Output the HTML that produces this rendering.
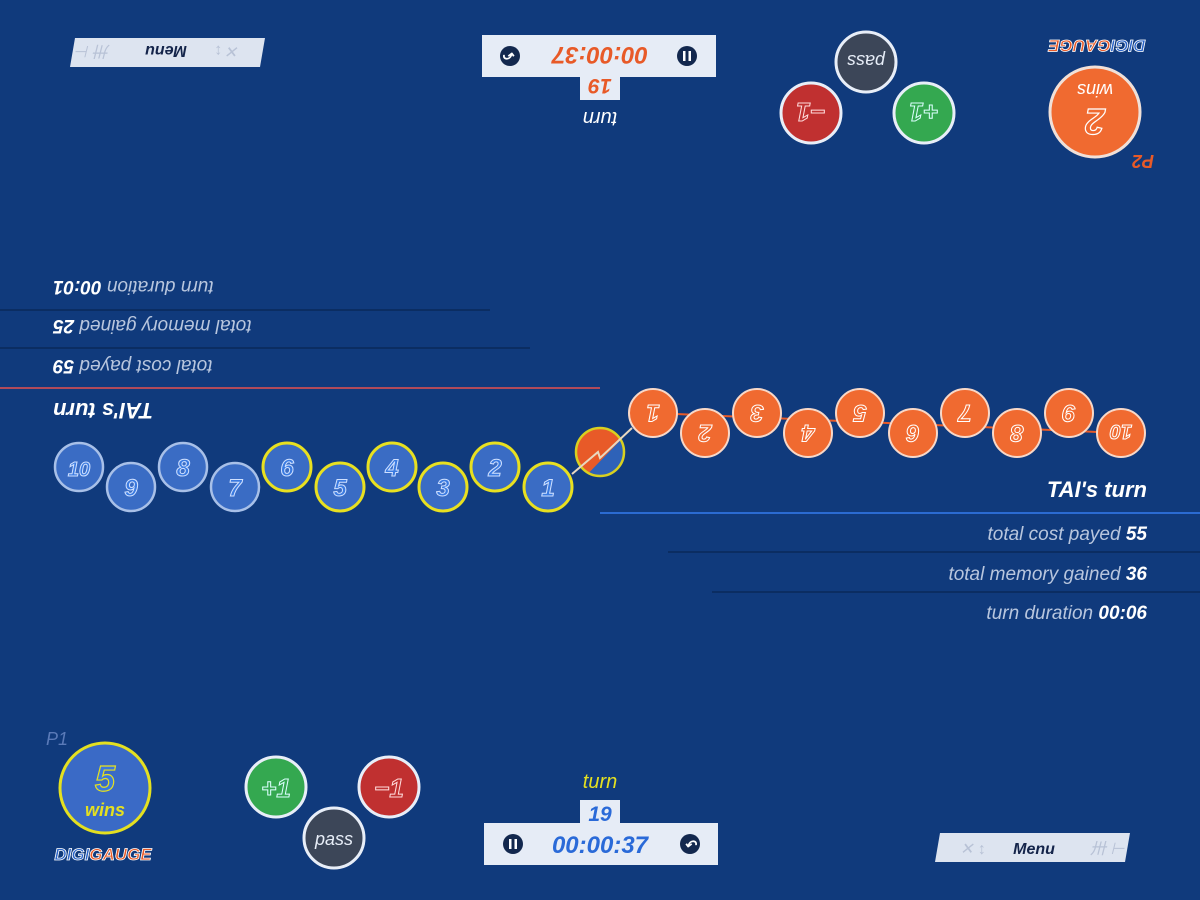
<!DOCTYPE html>
<html><head><meta charset="utf-8"><style>
html,body{margin:0;padding:0;background:#103a7c;width:1200px;height:900px;overflow:hidden}
svg{display:block}
text{font-family:"Liberation Sans",sans-serif;font-style:italic}
</style></head><body>
<svg width="1200" height="900" viewBox="0 0 1200 900" xmlns="http://www.w3.org/2000/svg">
<rect width="1200" height="900" fill="#103a7c"/>

<!-- ===== bottom half (P1 view) ===== -->
<g id="half">
  <!-- stats lines -->
  <line x1="600" y1="513" x2="1200" y2="513" stroke="#2b6bd2" stroke-width="2"/>
  <line x1="668" y1="552" x2="1200" y2="552" stroke="#0b2d62" stroke-width="2"/>
  <line x1="712" y1="592" x2="1200" y2="592" stroke="#0b2d62" stroke-width="2"/>
  <text x="1147" y="497" text-anchor="end" font-size="22" font-weight="bold" fill="#fff">TAI's turn</text>
  <text x="1147" y="540" text-anchor="end" font-size="19" fill="#b8c6de">total cost payed <tspan font-weight="bold" fill="#fff">55</tspan></text>
  <text x="1147" y="580" text-anchor="end" font-size="19" fill="#b8c6de">total memory gained <tspan font-weight="bold" fill="#fff">36</tspan></text>
  <text x="1147" y="619" text-anchor="end" font-size="19" fill="#b8c6de">turn duration <tspan font-weight="bold" fill="#fff">00:06</tspan></text>

  <!-- wins -->
  <text x="46" y="745" font-size="18" fill="#5a7ab8">P1</text>
  <circle cx="105" cy="788" r="45" fill="#3a6ac6" stroke="#e4e020" stroke-width="3"/>
  <text x="105" y="791" text-anchor="middle" font-size="36" font-weight="bold" fill="#3a78e0" stroke="#e4e020" stroke-width="1.2">5</text>
  <text x="105" y="816" text-anchor="middle" font-size="18" font-weight="bold" fill="#e4e020">wins</text>
  <text x="103" y="860" text-anchor="middle" font-size="17" font-weight="bold" fill="#2a64c8" stroke="#fff" stroke-width="0.8">DIGI<tspan fill="#e85a28">GAUGE</tspan></text>

  <!-- controls -->
  <circle cx="276" cy="787" r="30" fill="#34a850" stroke="#e8eef8" stroke-width="3"/>
  <text x="276" y="797" text-anchor="middle" font-size="26" font-weight="bold" fill="#34a850" stroke="#dff" stroke-width="1">+1</text>
  <circle cx="389" cy="787" r="30" fill="#c03030" stroke="#e8eef8" stroke-width="3"/>
  <text x="389" y="797" text-anchor="middle" font-size="26" font-weight="bold" fill="#c03030" stroke="#fdd" stroke-width="1">−1</text>
  <circle cx="334" cy="838" r="30" fill="#3c4658" stroke="#e8eef8" stroke-width="3"/>
  <text x="334" y="845" text-anchor="middle" font-size="18" fill="#e8eef8" font-style="normal">pass</text>

  <!-- timer -->
  <rect x="580" y="800" width="40" height="25" fill="#e6ecf6"/>
  <text x="600" y="821" text-anchor="middle" font-size="21" font-weight="bold" fill="#2a6ad8">19</text>
  <rect x="484" y="823" width="234" height="42" fill="#e6ecf6"/>
  <circle cx="513" cy="844" r="10" fill="#13284e"/>
  <rect x="509" y="839" width="2.5" height="10" fill="#fff"/><rect x="514.5" y="839" width="2.5" height="10" fill="#fff"/>
  <circle cx="690" cy="844" r="10" fill="#13284e"/>
  <text x="690" y="850" text-anchor="middle" font-size="14" font-weight="bold" fill="#fff" font-style="normal">↶</text>
  <text x="600" y="853" text-anchor="middle" font-size="24" font-weight="bold" fill="#2a6ad8">00:00:37</text>

  <!-- menu -->
  <polygon points="940,833 1130,833 1125,862 935,862" fill="#dde4f0"/>
  <text x="960" y="854" font-size="16" fill="#b8c2d6" font-style="normal">✕ ↕</text>
  <text x="1090" y="854" font-size="16" fill="#b8c2d6" font-style="normal">卅 ⊢</text>
  <text x="1034" y="854" text-anchor="middle" font-size="16" font-weight="bold" fill="#14244a">Menu</text>
</g>

<!-- ===== top half (P2 view, rotated) ===== -->
<g transform="rotate(180 600 450)">
  <line x1="600" y1="512" x2="1200" y2="512" stroke="#b04a5a" stroke-width="2"/>
  <line x1="670" y1="552" x2="1200" y2="552" stroke="#0b2d62" stroke-width="2"/>
  <line x1="710" y1="590" x2="1200" y2="590" stroke="#0b2d62" stroke-width="2"/>
  <text x="1147" y="497" text-anchor="end" font-size="22" font-weight="bold" fill="#fff">TAI's turn</text>
  <text x="1147" y="540" text-anchor="end" font-size="19" fill="#b8c6de">total cost payed <tspan font-weight="bold" fill="#fff">59</tspan></text>
  <text x="1147" y="580" text-anchor="end" font-size="19" fill="#b8c6de">total memory gained <tspan font-weight="bold" fill="#fff">25</tspan></text>
  <text x="1147" y="619" text-anchor="end" font-size="19" fill="#b8c6de">turn duration <tspan font-weight="bold" fill="#fff">00:01</tspan></text>

  <text x="46" y="745" font-size="18" font-weight="bold" fill="#e85a28">P2</text>
  <circle cx="105" cy="788" r="45" fill="#f06a30" stroke="#f0e0d8" stroke-width="3"/>
  <text x="105" y="791" text-anchor="middle" font-size="36" font-weight="bold" fill="#f06a30" stroke="#fff" stroke-width="1.2">2</text>
  <text x="105" y="816" text-anchor="middle" font-size="18" fill="#fff">wins</text>
  <text x="103" y="860" text-anchor="middle" font-size="17" font-weight="bold" fill="#2a64c8" stroke="#fff" stroke-width="0.8">DIGI<tspan fill="#e85a28">GAUGE</tspan></text>

  <circle cx="276" cy="787" r="30" fill="#34a850" stroke="#e8eef8" stroke-width="3"/>
  <text x="276" y="797" text-anchor="middle" font-size="26" font-weight="bold" fill="#34a850" stroke="#dff" stroke-width="1">+1</text>
  <circle cx="389" cy="787" r="30" fill="#c03030" stroke="#e8eef8" stroke-width="3"/>
  <text x="389" y="797" text-anchor="middle" font-size="26" font-weight="bold" fill="#c03030" stroke="#fdd" stroke-width="1">−1</text>
  <circle cx="334" cy="838" r="30" fill="#3c4658" stroke="#e8eef8" stroke-width="3"/>
  <text x="334" y="845" text-anchor="middle" font-size="18" fill="#e8eef8" font-style="normal">pass</text>

  <text x="600" y="788" text-anchor="middle" font-size="20" fill="#fff">turn</text>
  <rect x="580" y="800" width="40" height="25" fill="#e6ecf6"/>
  <text x="600" y="821" text-anchor="middle" font-size="21" font-weight="bold" fill="#e85a28">19</text>
  <rect x="484" y="823" width="234" height="42" fill="#e6ecf6"/>
  <circle cx="513" cy="844" r="10" fill="#13284e"/>
  <rect x="509" y="839" width="2.5" height="10" fill="#fff"/><rect x="514.5" y="839" width="2.5" height="10" fill="#fff"/>
  <circle cx="690" cy="844" r="10" fill="#13284e"/>
  <text x="690" y="850" text-anchor="middle" font-size="14" font-weight="bold" fill="#fff" font-style="normal">↶</text>
  <text x="600" y="853" text-anchor="middle" font-size="24" font-weight="bold" fill="#e85a28">00:00:37</text>

  <polygon points="940,833 1130,833 1125,862 935,862" fill="#dde4f0"/>
  <text x="960" y="854" font-size="16" fill="#b8c2d6" font-style="normal">✕ ↕</text>
  <text x="1090" y="854" font-size="16" fill="#b8c2d6" font-style="normal">卅 ⊢</text>
  <text x="1034" y="854" text-anchor="middle" font-size="16" font-weight="bold" fill="#14244a">Menu</text>
</g>

<!-- bottom turn label (yellow) -->
<text x="600" y="788" text-anchor="middle" font-size="20" fill="#e4e020">turn</text>

<!-- center half ball + connector -->
<defs><clipPath id="hc"><circle cx="600" cy="452" r="24"/></clipPath></defs>
<circle cx="600" cy="452" r="24" fill="#2e62b8"/>
<polygon points="570,420 640,420 578,484" fill="#e85a28" clip-path="url(#hc)"/>
<circle cx="600" cy="452" r="24" fill="none" stroke="#d8d020" stroke-width="2.5"/>
<polyline points="572,474 598,452 600,458 632,428" fill="none" stroke="#e8d8c0" stroke-width="2"/>

<!-- orange balls (upside-down numbers) -->
<g font-size="24" font-weight="bold" text-anchor="middle">
  <line x1="653" y1="413" x2="1121" y2="433" stroke="#e85a28" stroke-width="2"/>
  <g fill="#f06a30" stroke="#f8d8c8" stroke-width="2">
    <circle cx="653" cy="413" r="24"/><circle cx="705" cy="433" r="24"/><circle cx="757" cy="413" r="24"/>
    <circle cx="808" cy="433" r="24"/><circle cx="860" cy="413" r="24"/><circle cx="913" cy="433" r="24"/>
    <circle cx="965" cy="413" r="24"/><circle cx="1017" cy="433" r="24"/><circle cx="1069" cy="413" r="24"/>
    <circle cx="1121" cy="433" r="24"/>
  </g>
  <g fill="#f06a30" stroke="#fff" stroke-width="1">
    <text transform="rotate(180 653 413)" x="653" y="421">1</text>
    <text transform="rotate(180 705 433)" x="705" y="441">2</text>
    <text transform="rotate(180 757 413)" x="757" y="421">3</text>
    <text transform="rotate(180 808 433)" x="808" y="441">4</text>
    <text transform="rotate(180 860 413)" x="860" y="421">5</text>
    <text transform="rotate(180 913 433)" x="913" y="441">6</text>
    <text transform="rotate(180 965 413)" x="965" y="421">7</text>
    <text transform="rotate(180 1017 433)" x="1017" y="441">8</text>
    <text transform="rotate(180 1069 413)" x="1069" y="421">9</text>
    <text transform="rotate(180 1121 433)" x="1121" y="441" font-size="20">10</text>
  </g>
</g>

<!-- blue balls -->
<g font-size="24" font-weight="bold" text-anchor="middle">
  <g fill="#3a6cc4" stroke-width="2.5">
    <circle cx="79" cy="467" r="24" stroke="#a8c0e8"/>
    <circle cx="131" cy="487" r="24" stroke="#a8c0e8"/>
    <circle cx="183" cy="467" r="24" stroke="#a8c0e8"/>
    <circle cx="235" cy="487" r="24" stroke="#a8c0e8"/>
    <circle cx="287" cy="467" r="24" stroke="#e8e020" stroke-width="3"/>
    <circle cx="340" cy="487" r="24" stroke="#e8e020" stroke-width="3"/>
    <circle cx="392" cy="467" r="24" stroke="#e8e020" stroke-width="3"/>
    <circle cx="443" cy="487" r="24" stroke="#e8e020" stroke-width="3"/>
    <circle cx="495" cy="467" r="24" stroke="#e8e020" stroke-width="3"/>
    <circle cx="548" cy="487" r="24" stroke="#e8e020" stroke-width="3"/>
  </g>
  <g fill="#3a7ae0" stroke="#cfe0ff" stroke-width="1">
    <text x="79" y="476" font-size="20">10</text>
    <text x="131" y="496">9</text>
    <text x="183" y="476">8</text>
    <text x="235" y="496">7</text>
    <text x="287" y="476">6</text>
    <text x="340" y="496">5</text>
    <text x="392" y="476">4</text>
    <text x="443" y="496">3</text>
    <text x="495" y="476">2</text>
    <text x="548" y="496">1</text>
  </g>
</g>
</svg>
</body></html>
